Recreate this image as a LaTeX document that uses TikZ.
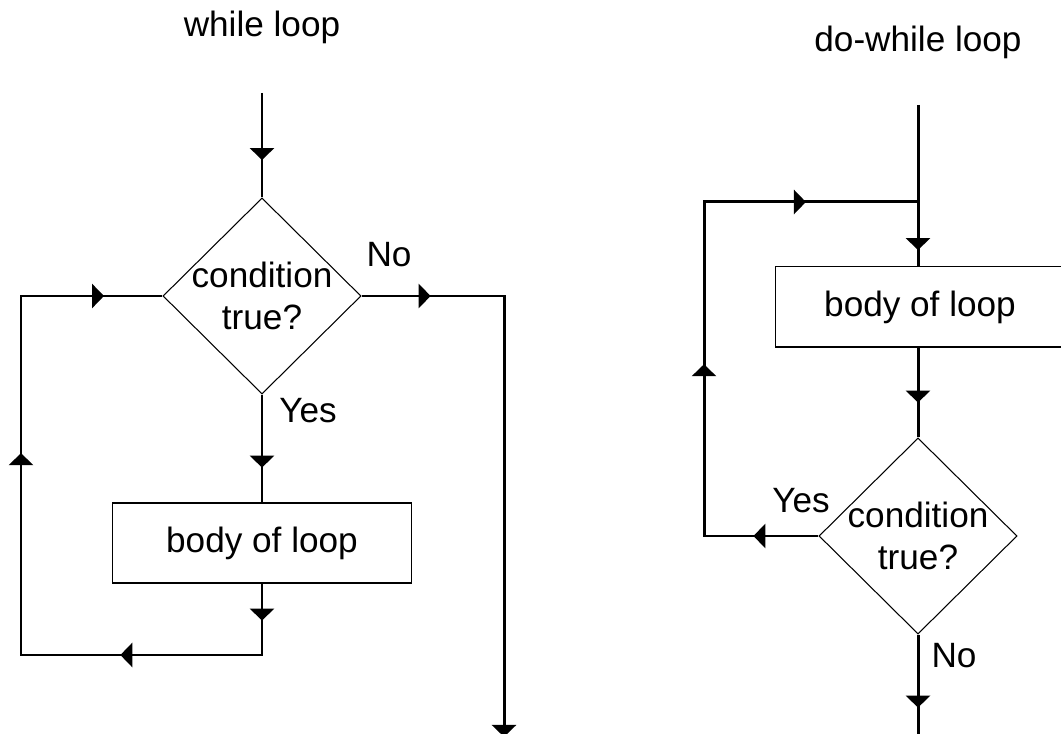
\documentclass[tikz,border=0pt]{standalone}
\usepackage{fontspec}
\setmainfont{Liberation Sans}
\usepackage{tikz}
\usetikzlibrary{shapes.geometric,arrows.meta,decorations.markings}
\tikzstyle{decision} = [diamond, minimum width=1.98cm, minimum height=1.96cm, inner sep=0pt, draw=black, line width=0.3pt]
\tikzstyle{process} = [rectangle, minimum height=0.8cm, text centered, draw=black, line width=0.3pt]
\tikzstyle{connector} = [line width=0.85pt, postaction={decorate}]
\tikzstyle{note} = [anchor=base, inner sep=0pt]
\tikzset{>={Triangle[length=3.4pt,width=6.8pt]}}

\begin{document}
\begin{tikzpicture}[x=0.01cm, y=-0.01cm, font=\fontsize{10pt}{12pt}\selectfont]
        \useasboundingbox (0,0) rectangle (1061,734);
        % while loop
        \node (title1) [note] at (262,37) {while loop};
        \coordinate (in1) at (262,93);
        \node (cond1) [decision] at (262,296) {};
        \node (cond1txt) [align=center] at (cond1) {condition\\true?};
        \node (body1) [process, minimum width=2.98cm] at (262,543) {body of loop};
        \node (no1) [note] at (389,267) {No};
        \node (yes1) [note] at (308,423) {Yes};
        \coordinate (loop1) at (262,655);
        \coordinate (back1) at (21,296);
        \coordinate (exit1) at (504,737);
        \draw [connector, decoration={markings, mark=at position 0.67cm with {\arrow{>}}}] (in1) -- (cond1.north);
        \draw [connector, decoration={markings, mark=at position 0.73cm with {\arrow{>}}}] (cond1.south) -- (body1.north);
        \draw [connector, decoration={markings, mark=at position 0.37cm with {\arrow{>}},
            mark=at position 2.13cm with {\arrow{>}}, mark=at position 5.14cm with {\arrow{>}},
            mark=at position 7.54cm with {\arrow{>}}}] (body1.south) -- (loop1) -| (back1) -- (cond1.west);
        \draw [connector, decoration={markings, mark=at position 0.69cm with {\arrow{>}},
            mark=at position 5.83cm with {\arrow{>}}}] (cond1.east) -| (exit1);
        % do-while loop
        \node (title2) [note] at (918,52) {do-while loop};
        \coordinate (in2) at (918,105);
        \node (body2) [process, minimum width=2.88cm] at (920,307) {body of loop};
        \node (cond2) [decision] at (918,536) {};
        \node (cond2txt) [align=center] at (cond2) {condition\\true?};
        \node (yes2) [note] at (801,512) {Yes};
        \node (no2) [note] at (954,667) {No};
        \coordinate (back2) at (704,202);
        \coordinate (exit2) at (918,737);
        \draw [connector, decoration={markings, mark=at position 1.45cm with {\arrow{>}}}] (in2) -- (in2 |- body2.north);
        \draw [connector, decoration={markings, mark=at position 0.55cm with {\arrow{>}}}] (in2 |- body2.south) -- (cond2.north);
        \draw [connector, decoration={markings, mark=at position 0.65cm with {\arrow{>}},
            mark=at position 2.86cm with {\arrow{>}}, mark=at position 5.50cm with {\arrow{>}}}] (cond2.west) -| (back2) -- (back2 -| in2);
        \draw [connector, decoration={markings, mark=at position 0.73cm with {\arrow{>}}}] (cond2.south) -- (exit2);
    \end{tikzpicture}
\end{document}
